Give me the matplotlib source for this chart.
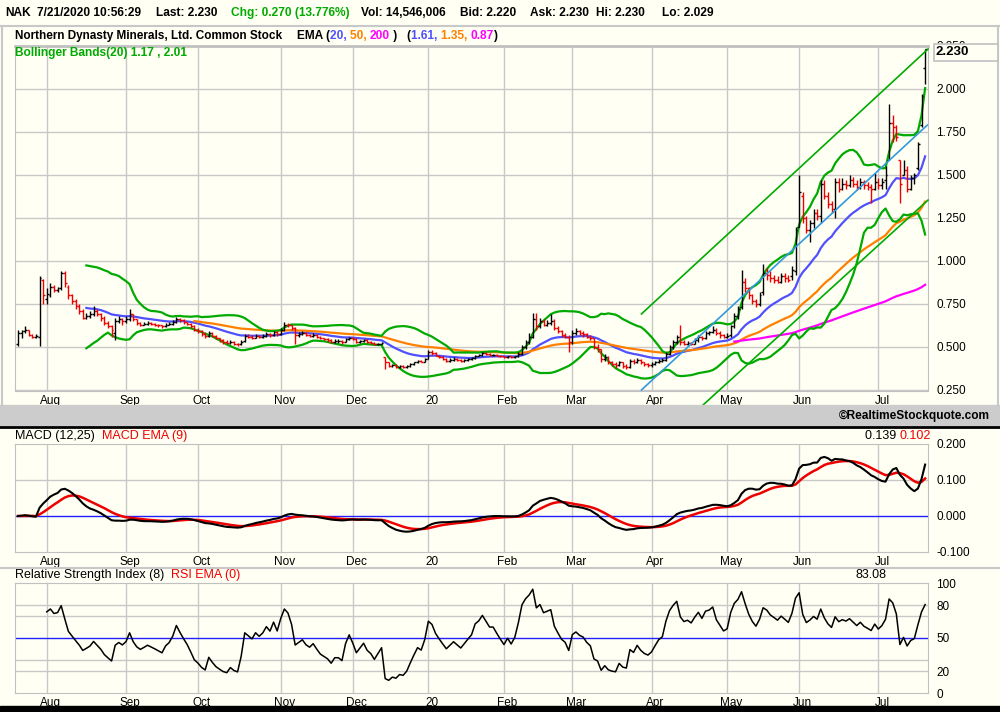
import matplotlib.pyplot as plt
import matplotlib.lines as mlines
import matplotlib.patches as mpatches
import numpy as np
import pandas as pd

plt.rcParams['font.family'] = ['Liberation Sans', 'DejaVu Sans']

# trading calendar shown on the chart
first_day, last_day = '2019-07-22', '2020-07-21'
holidays = ['2019-09-02', '2019-11-28', '2019-12-25', '2020-01-01', '2020-01-20',
            '2020-02-17', '2020-04-10', '2020-05-25', '2020-07-03']

# daily OHLC (Jul-19 .. Jul-20)
closes = [.58, .59, .60, .57, .56, .565, .90, .80,
          .81, .85, .83, .84, .93, .87, .80, .77, .74, .71, .67, .68, .69, .71, .69, .67, .64, .62, .60, .65, .66, .65,
          .66, .69, .66, .64, .63, .635, .64, .635, .63, .625, .62, .63, .635, .645, .665, .655, .645, .635, .62, .60,
          .59, .575, .565, .58, .565, .55, .54, .53, .525, .53, .52, .515, .53, .565, .56, .555, .565, .56, .565, .575, .57, .585, .575,
          .60, .63, .625, .61, .57, .575, .58, .57, .565, .57, .56, .55, .545, .54, .53, .535, .535, .53, .545, .555,
          .545, .53, .535, .54, .53, .525, .515, .52, .525, .41, .39, .395, .385, .39, .385, .39, .40, .41, .42, .415, .43,
          .47, .465, .45, .44, .43, .42, .425, .43, .425, .42, .425, .43, .435, .45, .455, .465, .46, .455, .455, .45, .445,
          .44, .445, .44, .445, .46, .50, .53, .56, .66, .62, .65, .63, .64, .65, .61, .59, .57, .56, .53,
          .58, .59, .58, .575, .56, .55, .50, .49, .43, .44, .41, .40, .395, .41, .39, .385, .42, .41, .425, .41, .40, .395,
          .40, .41, .42, .425, .46, .50, .53, .56, .53, .52, .525, .52, .54, .56, .55, .58, .585, .60, .58, .57, .56,
          .565, .62, .68, .72, .88, .84, .80, .77, .75, .80, .93, .92, .90, .89, .88, .91, .90, .89, .95, 1.18,
          1.40, 1.25, 1.18, 1.22, 1.28, 1.26, 1.45, 1.38, 1.33, 1.30, 1.46, 1.42, 1.45, 1.44, 1.47, 1.45, 1.43, 1.46, 1.44, 1.43, 1.42, 1.46,
          1.44, 1.46, 1.50, 1.80, 1.78, 1.72, 1.45, 1.53, 1.42, 1.48, 1.50, 1.68, 1.96, 2.23]
opens = [.52, .58, .59, .60, .57, .56, .56, .89,
         .78, .80, .85, .83, .84, .93, .85, .80, .77, .74, .71, .67, .68, .69, .71, .69, .67, .64, .62, .58, .65, .66,
         .65, .66, .69, .66, .64, .63, .635, .64, .635, .63, .625, .62, .63, .635, .645, .665, .655, .645, .635, .62,
         .60, .59, .575, .565, .58, .565, .55, .54, .53, .525, .53, .52, .515, .535, .565, .56, .555, .565, .56, .565, .575, .57, .585,
         .575, .60, .63, .625, .61, .57, .575, .58, .57, .565, .57, .56, .55, .545, .54, .53, .535, .535, .53, .545,
         .555, .545, .53, .535, .54, .53, .525, .515, .52, .44, .41, .39, .395, .385, .39, .385, .39, .40, .41, .42, .415,
         .43, .47, .465, .45, .44, .43, .42, .425, .43, .425, .42, .425, .43, .435, .45, .455, .465, .46, .455, .455, .45,
         .445, .44, .445, .44, .445, .46, .50, .53, .56, .66, .62, .65, .63, .64, .65, .61, .59, .57, .56,
         .53, .58, .59, .58, .575, .56, .55, .50, .49, .43, .44, .41, .40, .395, .41, .39, .385, .42, .41, .425, .41, .40,
         .395, .40, .41, .42, .425, .46, .50, .53, .56, .53, .52, .525, .52, .54, .56, .55, .58, .585, .60, .58, .57,
         .56, .57, .62, .68, .73, .88, .84, .80, .77, .75, .82, .93, .92, .90, .89, .88, .91, .90, .91, .94,
         1.20, 1.38, 1.25, 1.18, 1.22, 1.28, 1.26, 1.45, 1.38, 1.33, 1.30, 1.46, 1.42, 1.45, 1.44, 1.47, 1.45, 1.43, 1.46, 1.44, 1.43, 1.42,
         1.46, 1.44, 1.47, 1.59, 1.80, 1.78, 1.59, 1.50, 1.53, 1.42, 1.48, 1.54, 1.79, 2.12]
highs = [.60, .60, .62, .60, .575, .575, .915, .895,
         .84, .87, .86, .85, .94, .94, .86, .81, .78, .75, .72, .70, .71, .74, .72, .70, .68, .65, .63, .67, .68, .67,
         .68, .72, .69, .665, .645, .645, .65, .645, .64, .635, .63, .64, .645, .655, .675, .67, .66, .645, .64, .625,
         .61, .60, .585, .59, .585, .57, .555, .545, .54, .54, .535, .525, .54, .575, .575, .57, .575, .57, .575, .585, .58, .595, .59,
         .61, .645, .64, .63, .615, .585, .59, .585, .575, .58, .575, .565, .555, .55, .545, .545, .545, .54, .55, .56,
         .56, .55, .54, .545, .545, .535, .53, .525, .53, .44, .415, .40, .40, .395, .395, .395, .405, .415, .425, .425, .435,
         .485, .48, .47, .455, .445, .435, .435, .44, .435, .43, .43, .435, .44, .455, .46, .47, .47, .465, .46, .46, .455,
         .45, .45, .45, .45, .47, .51, .54, .58, .70, .70, .67, .66, .655, .69, .66, .62, .60, .58, .57,
         .60, .61, .60, .59, .58, .57, .55, .52, .49, .46, .45, .42, .41, .42, .415, .40, .43, .43, .435, .43, .415, .405,
         .41, .42, .43, .435, .47, .51, .54, .57, .63, .54, .535, .53, .55, .57, .565, .59, .595, .62, .61, .59, .575,
         .58, .63, .70, .74, .95, .90, .85, .81, .78, .82, .98, .96, .94, .92, .91, .93, .93, .92, .97, 1.20,
         1.50, 1.40, 1.26, 1.24, 1.30, 1.30, 1.47, 1.47, 1.40, 1.35, 1.48, 1.48, 1.48, 1.47, 1.50, 1.49, 1.47, 1.48, 1.47, 1.46, 1.45, 1.51,
         1.48, 1.48, 1.55, 1.91, 1.85, 1.79, 1.59, 1.59, 1.55, 1.50, 1.51, 1.69, 1.97, 2.23]
lows = [.505, .55, .58, .565, .55, .55, .505, .75,
        .75, .79, .82, .82, .83, .85, .78, .75, .72, .69, .66, .66, .67, .68, .68, .65, .63, .61, .56, .54, .64, .63,
        .64, .65, .65, .63, .62, .625, .63, .625, .62, .615, .61, .615, .625, .63, .64, .645, .635, .625, .61, .59,
        .58, .565, .555, .56, .56, .545, .53, .52, .515, .515, .51, .505, .51, .53, .55, .545, .55, .55, .555, .56, .56, .565, .565,
        .57, .595, .615, .60, .52, .56, .57, .565, .56, .56, .555, .545, .54, .53, .525, .525, .525, .52, .53, .54,
        .54, .525, .525, .53, .525, .515, .51, .51, .515, .37, .385, .385, .38, .38, .38, .38, .385, .395, .405, .41, .41,
        .43, .455, .445, .435, .425, .415, .415, .42, .42, .415, .415, .42, .425, .43, .445, .45, .455, .45, .445, .445, .44,
        .435, .435, .435, .435, .44, .455, .49, .52, .55, .60, .61, .62, .62, .63, .60, .58, .56, .55, .47,
        .52, .57, .57, .56, .55, .54, .49, .47, .41, .42, .40, .39, .38, .39, .38, .37, .38, .40, .405, .40, .39, .385,
        .385, .395, .405, .41, .42, .455, .49, .52, .51, .51, .51, .51, .515, .53, .54, .545, .57, .58, .57, .555, .55,
        .55, .56, .61, .66, .72, .82, .78, .75, .73, .74, .80, .89, .88, .87, .87, .87, .88, .88, .89, .92,
        1.20, 1.22, 1.16, 1.11, 1.19, 1.24, 1.22, 1.36, 1.31, 1.28, 1.25, 1.40, 1.41, 1.42, 1.43, 1.43, 1.41, 1.42, 1.42, 1.41, 1.34, 1.41,
        1.42, 1.42, 1.42, 1.59, 1.69, 1.70, 1.34, 1.50, 1.40, 1.41, 1.45, 1.53, 1.78, 2.029]

# hand-drawn trend lines: (bar index, price) end points
upper_trend = [(173.2, 0.692), (252.8, 2.232)]
lower_trend = [(189.7, 0.151), (252.8, 1.354)]
blue_trend = [(173.2, 0.250), (252.6, 1.790)]

ema_periods = [20, 50, 200]
ema_colors = ['#5050FF', '#FF8000', '#FF00FF']
price_ticks = [0.25, 0.5, 0.75, 1.0, 1.25, 1.5, 1.75, 2.0, 2.25]
macd_ticks = [-0.1, 0.0, 0.1, 0.2]
rsi_ticks = [0, 20, 50, 80, 100]
rsi_grid = [20, 30, 70, 80]

W, H = 1000, 712
BG = '#FFFFF4'
GRID = '#C8C8C8'
GREEN = '#00AA00'

dates = pd.bdate_range(first_day, last_day)
dates = dates[~dates.isin(pd.to_datetime(holidays))]
n = min(len(dates), len(closes))
df = pd.DataFrame({'open': opens[:n], 'high': highs[:n], 'low': lows[:n], 'close': closes[:n]},
                  index=dates[:n])
close = df['close']
xs = np.arange(n)

# indicators
emas = [close.ewm(span=p, adjust=False).mean() for p in ema_periods]
mid = close.rolling(20).mean()
sd = close.rolling(20).std(ddof=0)
bb_up, bb_lo = mid + 2 * sd, mid - 2 * sd
macd = close.ewm(span=12, adjust=False).mean() - close.ewm(span=25, adjust=False).mean()
signal = macd.ewm(span=9, adjust=False).mean()
delta = close.diff()
avg_gain = delta.clip(lower=0).ewm(alpha=1 / 8, adjust=False).mean()
avg_loss = (-delta.clip(upper=0)).ewm(alpha=1 / 8, adjust=False).mean()
rsi = 100 - 100 / (1 + avg_gain / avg_loss)

# month ticks
months = df.index.to_period('M')
is_first = np.r_[False, months[1:] != months[:-1]]
month_idx = xs[is_first]
month_lbl = [d.strftime('%y') if d.month == 1 else d.strftime('%b') for d in df.index[is_first]]

fig = plt.figure(figsize=(W / 100, H / 100), dpi=100, facecolor=BG)


def px(x, y):
    return x / W, 1 - y / H


def panel(y0, y1):
    ax = fig.add_axes([15 / W, 1 - y1 / H, 913 / W, (y1 - y0) / H])
    ax.set_facecolor(BG)
    ax.set_xlim(-0.83, 252.8)
    for s in ax.spines.values():
        s.set_color('#C0C0C0')
    ax.yaxis.tick_right()
    ax.tick_params(length=0, labelsize=8.5, pad=3)
    ax.tick_params(axis='y', pad=6)
    ax.set_xticks(month_idx + 1.0, month_lbl)
    ax.set_axisbelow(True)
    for m in month_idx:
        ax.axvline(m, color=GRID, lw=1, zorder=0)
    return ax


def hline(y, x0=0, x1=W, color=GRID, lw=1.5):
    fig.add_artist(mlines.Line2D([x0 / W, x1 / W], [1 - y / H, 1 - y / H], color=color, lw=lw))


def segments(x, y, parts, **kw):
    r = fig.canvas.get_renderer()
    for s, c in parts:
        t = fig.text(*px(x, y), s, color=c, va='center', **kw)
        x += t.get_window_extent(r).width


# ---- price panel
ax = panel(46, 391)
ax.set_ylim(0.244, 2.25)
ax.set_yticks(price_ticks, [f'{v:.3f}' for v in price_ticks])
for v in price_ticks:
    ax.axhline(v, color=GRID, lw=1, zorder=0)
ax.spines['top'].set_linewidth(2)

for i, (e, c) in enumerate(zip(emas, ema_colors)):
    p = ema_periods[i]
    ax.plot(xs[p - 1:], e[p - 1:], color=c, lw=1.6, zorder=2)
ax.plot(xs[19:], bb_up[19:], color=GREEN, lw=1.6, zorder=2)
ax.plot(xs[19:], bb_lo[19:], color=GREEN, lw=1.6, zorder=2)

prev = close.shift(1).fillna(close.iloc[0])
cols = np.where(close < prev, '#EE0000', 'black')
ax.vlines(xs, df['low'], df['high'], colors=cols, lw=1, zorder=3)
ax.hlines(df['open'], xs - 0.5, xs, colors=cols, lw=1, zorder=3)
ax.hlines(close, xs, xs + 0.5, colors=cols, lw=1, zorder=3)

for pts, c in [(upper_trend, GREEN), (lower_trend, GREEN), (blue_trend, '#3399DD')]:
    (xa, ya), (xb, yb) = pts
    ax.plot([xa, xb], [ya, yb], color=c, lw=1.2, zorder=4, clip_on=False)

# ---- MACD panel
ax2 = panel(444, 552)
ax2.set_ylim(-0.1, 0.2)
ax2.set_yticks(macd_ticks, [f'{v:.3f}' for v in macd_ticks])
ax2.axhline(0.1, color=GRID, lw=1, zorder=0)
ax2.axhline(0.0, color='#2020FF', lw=1, zorder=1)
ax2.plot(xs, macd, color='black', lw=1.5, zorder=3)
ax2.plot(xs, signal, color='#EE0000', lw=1.8, zorder=2)

# ---- RSI panel
ax3 = panel(583, 693)
ax3.set_ylim(0, 100)
ax3.set_yticks(rsi_ticks, [str(v) for v in rsi_ticks])
for v in rsi_grid:
    ax3.axhline(v, color=GRID, lw=1, zorder=0)
ax3.axhline(50, color='#2020FF', lw=1, zorder=1)
ax3.plot(xs[8:], rsi[8:], color='black', lw=1.1, zorder=3)

# ---- frame pieces
hline(26)
fig.add_artist(mpatches.Rectangle(px(0, 425), 1, 20 / H, transform=fig.transFigure, color='#CCCCCC'))
hline(426.5, color='black', lw=2)
hline(568)
fig.add_artist(mpatches.Rectangle(px(0, 712), 1, 6 / H, transform=fig.transFigure, color='black'))
for xv in (1.5, 998):
    fig.add_artist(mlines.Line2D([xv / W] * 2, [1 - 26 / H, 1 - 405 / H], color=GRID, lw=1.5))

# last price box over the top tick label
fig.add_artist(mpatches.Rectangle(px(934, 61), 64 / W, 17 / H, transform=fig.transFigure,
                                  fc=BG, ec='#C0C0C0', lw=1.2, zorder=5))

# ---- texts
bold = dict(fontsize=8.6, fontweight='bold')
hdr = [(5, 'NAK', 'black'), (37, '7/21/2020 10:56:29', 'black'), (156, 'Last: 2.230', 'black'),
       (231, 'Chg: 0.270 (13.776%)', '#00AA00'), (361, 'Vol: 14,546,006', 'black'),
       (460, 'Bid: 2.220', 'black'), (530, 'Ask: 2.230', 'black'), (596, 'Hi: 2.230', 'black'),
       (662, 'Lo: 2.029', 'black')]
for x, s, c in hdr:
    fig.text(*px(x, 13), s, color=c, va='center', **bold)

fig.text(*px(15, 36), 'Northern Dynasty Minerals, Ltd. Common Stock', va='center', fontsize=8.5,
         fontweight='bold')
segments(297, 36, [('EMA (', 'black'), ('20, ', ema_colors[0]), ('50, ', ema_colors[1]),
                   ('200', ema_colors[2]), (' )   (', 'black'), ('1.61, ', ema_colors[0]),
                   ('1.35, ', ema_colors[1]), ('0.87', ema_colors[2]), (')', 'black')], **bold)
fig.text(*px(15, 53), 'Bollinger Bands(20) 1.17 , 2.01', color='#00AA00', va='center', **bold)

fig.text(*px(936, 52), '2.230', va='center', fontsize=9.5, fontweight='bold', zorder=6)
fig.text(*px(990, 416), '\u00a9RealtimeStockquote.com', ha='right', va='center', **bold)

narrow = dict(fontsize=9, family=['Liberation Sans Narrow', 'Liberation Sans', 'DejaVu Sans'])
segments(15, 436, [('MACD (12,25)  ', 'black'), ('MACD EMA (9)', '#EE0000')], **narrow)
fig.text(*px(900, 436), '0.139 ', ha='right', va='center', **narrow)
fig.text(*px(900, 436), '0.102', ha='left', va='center', color='#EE0000', **narrow)
segments(15, 575, [('Relative Strength Index (8)  ', 'black'), ('RSI EMA (0)', '#EE0000')], **narrow)
fig.text(*px(886, 575), '83.08', ha='right', va='center', **narrow)

fig.savefig('out.png', dpi=100, facecolor=BG)
